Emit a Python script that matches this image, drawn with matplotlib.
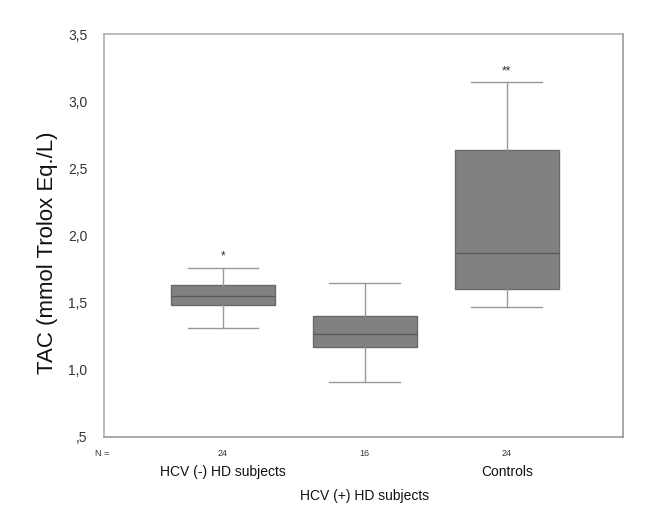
import numpy as np
import matplotlib.pyplot as plt

plt.rcParams['font.family'] = ['Liberation Sans', 'DejaVu Sans']

## the data
groups = ['HCV (-) HD subjects', 'HCV (+) HD subjects', 'Controls']
n_subjects = [24, 16, 24]
whisk_lo = [1.31, 0.91, 1.47]
q1 = [1.48, 1.17, 1.60]
median = [1.55, 1.27, 1.87]
q3 = [1.63, 1.40, 2.64]
whisk_hi = [1.76, 1.65, 3.14]
marks = ['*', '', '**']
yticks = [0.5, 1.0, 1.5, 2.0, 2.5, 3.0, 3.5]
yticklabels = [',5', '1,0', '1,5', '2,0', '2,5', '3,0', '3,5']

fig = plt.figure(figsize=(6.45, 5.12), dpi=100)
ax = fig.add_axes([0.161, 0.1465, 0.805, 0.787])

stats = []
for i in range(len(groups)):
    stats.append(dict(whislo=whisk_lo[i], q1=q1[i], med=median[i],
                      q3=q3[i], whishi=whisk_hi[i], fliers=[]))

pos = np.arange(1, len(groups) + 1)
ax.bxp(stats, positions=pos, widths=0.73, patch_artist=True,
       boxprops=dict(facecolor='#818181', edgecolor='#6a6a6a', linewidth=1),
       medianprops=dict(color='#5a5a5a', linewidth=1),
       whiskerprops=dict(color='#9a9a9a', linewidth=1),
       capprops=dict(color='#9a9a9a', linewidth=1),
       capwidths=0.5)

# significance stars
for p, m, hi in zip(pos, marks, whisk_hi):
    if m:
        ax.text(p, hi + 0.04, m, ha='center', va='bottom', fontsize=8.5, color='#333333')

ax.set_xlim(0.16, 3.82)
ax.set_ylim(0.5, 3.5)
ax.set_xticks([])
ax.set_yticks(yticks)
ax.set_yticklabels(yticklabels)
ax.tick_params(axis='y', length=0, pad=12, labelsize=10, labelcolor='#333333')
for s in ax.spines.values():
    s.set_color('#b0b0b0')
    s.set_linewidth(1.2)
ax.spines['right'].set_color('#999999')
ax.spines['bottom'].set_color('#999999')

ax.set_ylabel('TAC (mmol Trolox Eq./L)', fontsize=16, color='#111111')
ax.yaxis.set_label_coords(-0.089, 0.457)

# N row and group names under the axis
trans = ax.get_xaxis_transform()
ax.text(0.148, -0.04, 'N =', transform=trans, ha='center', va='center', fontsize=6.5, color='#333333')
for p, n in zip(pos, n_subjects):
    ax.text(p, -0.04, str(n), transform=trans, ha='center', va='center', fontsize=6.5, color='#333333')
name_y = [-0.087, -0.146, -0.087]
for p, g, yy in zip(pos, groups, name_y):
    ax.text(p, yy, g, transform=trans, ha='center', va='center', fontsize=10, color='#111111')

fig.savefig('out.png', dpi=100)
